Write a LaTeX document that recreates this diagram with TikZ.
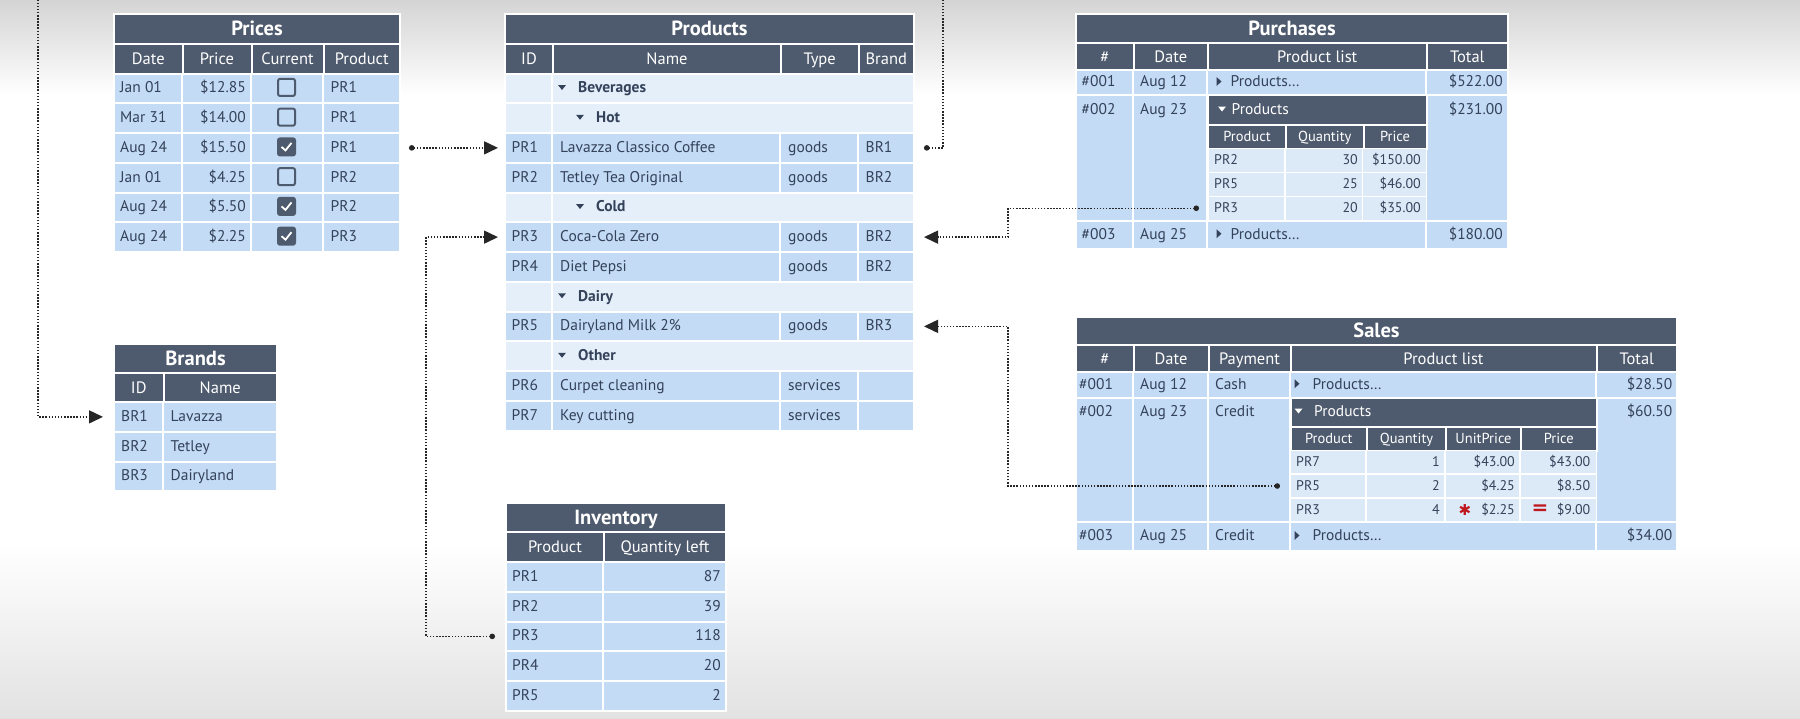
\documentclass[tikz,border=0pt]{standalone}
\usepackage{fontspec}
\setmainfont{PT Sans}
\newfontfamily\symfont{DejaVu Sans}
\usetikzlibrary{arrows.meta}
\definecolor{slate}{HTML}{4E5A6D}
\definecolor{sky}{HTML}{C3DBF4}
\definecolor{mist}{HTML}{E4EFFA}
\definecolor{frost}{HTML}{DCEAF8}
\definecolor{ink}{HTML}{34425A}
\definecolor{wire}{HTML}{262626}
\definecolor{alarm}{HTML}{C0161E}
\definecolor{haze}{HTML}{D4D4D4}
\definecolor{fog}{HTML}{E2E2E2}
\tikzset{
  cellbox/.style={anchor=north west, inner sep=0pt, draw=white, line width=2pt},
  barbox/.style={cellbox, fill=slate, text=white, font=\fontsize{16.5}{19}\selectfont, text height=11.5pt, text depth=0pt},
  ttlbox/.style={barbox, font=\fontsize{20.5}{23}\selectfont\bfseries, text height=14pt},
  subbox/.style={barbox, font=\fontsize{14.5}{17}\selectfont, text height=10pt},
  rowbox/.style={cellbox, fill=sky},
  grpbox/.style={cellbox, fill=mist},
  lowbox/.style={cellbox, fill=frost, line width=1.5pt},
  gap/.style={draw=white, line width=2pt},
  txt/.style={inner sep=0pt, anchor=west, text=ink, font=\fontsize{15.5}{18}\selectfont, text height=10.9pt, text depth=0pt},
  num/.style={txt, anchor=east},
  grptxt/.style={txt, font=\fontsize{15.5}{18}\selectfont\bfseries},
  sml/.style={txt, font=\fontsize{14}{16}\selectfont, text height=9.8pt},
  smlnum/.style={sml, anchor=east},
  chkoff/.style={draw=slate, line width=2pt, rounded corners=2pt, minimum size=17pt, inner sep=0pt},
  chkon/.style={chkoff, fill=slate},
  link/.style={draw=wire, line width=1.5pt, dash pattern=on 1.5pt off 1.6pt, {Circle[length=5.5pt]}-{Triangle[length=14pt, width=13pt]}},
}

\begin{document}
\begin{tikzpicture}[x=1pt, y=-1pt]
    \useasboundingbox (0,0) rectangle (1800,718);
    \fill[white] (0,0) rectangle (1800,718);
    \shade[top color=haze, bottom color=white] (0,0) rectangle (1800,95);
    \shade[top color=white, bottom color=fog] (0,545) rectangle (1800,718);
    \clip (0,0) rectangle (1800,718);

    % Prices
    \node[ttlbox, minimum width=286pt, minimum height=29.5pt] (price) at (113,13) {Prices};
    \foreach \x/\w/\t [count=\j] in {113/68.5/Date, 181.5/69/Price, 250.5/72/Current, 322.5/76.5/Product}
        \node[barbox, minimum width=\w pt, minimum height=30pt] (price-h\j) at (\x,42.5) {\t};
    \foreach \d/\p/\c/\q [count=\i] in {Jan 01/\$12.85/0/PR1, Mar 31/\$14.00/0/PR1, Aug 24/\$15.50/1/PR1,
            Jan 01/\$4.25/0/PR2, Aug 24/\$5.50/1/PR2, Aug 24/\$2.25/1/PR3} {
        \pgfmathsetmacro\y{72.5+(\i-1)*29.75}
        \node[rowbox, minimum width=286pt, minimum height=29.75pt] (price-\i) at (113,\y) {};
        \node[txt] (price-\i-d) at (120,\y+14.9) {\d};
        \node[num] (price-\i-p) at (246,\y+14.9) {\p};
        \node[txt] (price-\i-q) at (330.5,\y+14.9) {\q};
        \ifnum\c=1
            \node[chkon] (price-\i-c) at (286.5,\y+14.9) {};
            \draw[white, line width=1.8pt] (281.5,\y+14.9) -- (285.5,\y+18.4) -- (291.5,\y+10.9);
        \else
            \node[chkoff] (price-\i-c) at (286.5,\y+14.9) {};
        \fi
    }
    \foreach \x in {181.5, 250.5, 322.5}
        \draw[gap] (\x,72.5) -- (\x,251);

    % Products
    \node[ttlbox, minimum width=409pt, minimum height=29.5pt] (prod) at (504,13) {Products};
    \foreach \x/\w/\t [count=\j] in {504/48/ID, 552/228/Name, 780/77.5/Type, 857.5/55.5/Brand}
        \node[barbox, minimum width=\w pt, minimum height=30pt] (prod-h\j) at (\x,42.5) {\t};
    \foreach \k/\id/\nm/\ty/\br [count=\i] in {1/-/Beverages/-/-, 2/-/Hot/-/-,
            0/PR1/Lavazza Classico Coffee/goods/BR1, 0/PR2/Tetley Tea Original/goods/BR2,
            2/-/Cold/-/-, 0/PR3/Coca-Cola Zero/goods/BR2, 0/PR4/Diet Pepsi/goods/BR2,
            1/-/Dairy/-/-, 0/PR5/Dairyland Milk 2\%/goods/BR3, 1/-/Other/-/-,
            0/PR6/Curpet cleaning/services/{}, 0/PR7/Key cutting/services/{}} {
        \pgfmathsetmacro\y{72.5+(\i-1)*29.75}
        \ifnum\k=0
            \node[rowbox, minimum width=409pt, minimum height=29.75pt] (prod-\i) at (504,\y) {};
            \draw[gap] (780,\y) -- ++(0,29.75);
            \draw[gap] (857.5,\y) -- ++(0,29.75);
            \node[txt] (prod-\i-a) at (511.5,\y+14.9) {\id};
            \node[txt] (prod-\i-b) at (560,\y+14.9) {\nm};
            \node[txt] (prod-\i-c) at (788,\y+14.9) {\ty};
            \node[txt] (prod-\i-d) at (865.5,\y+14.9) {\br};
        \else
            \node[grpbox, minimum width=409pt, minimum height=29.75pt] (prod-\i) at (504,\y) {};
            \pgfmathsetmacro\tx{544+18*\k}
            \fill[ink] (\tx-4,\y+12.5) -- ++(8,0) -- ++(-4,5) -- cycle;
            \node[grptxt] (prod-\i-b) at (\tx+16,\y+14.9) {\nm};
        \fi
    }
    \draw[gap] (552,72.5) -- (552,430);

    % Brands
    \node[ttlbox, minimum width=163pt, minimum height=28.5pt] (brand) at (113,343) {Brands};
    \foreach \x/\w/\t [count=\j] in {113/49.5/ID, 162.5/113.5/Name}
        \node[barbox, minimum width=\w pt, minimum height=29.5pt] (brand-h\j) at (\x,371.5) {\t};
    \foreach \id/\nm [count=\i] in {BR1/Lavazza, BR2/Tetley, BR3/Dairyland} {
        \pgfmathsetmacro\y{401+(\i-1)*29.75}
        \node[rowbox, minimum width=163pt, minimum height=29.75pt] (brand-\i) at (113,\y) {};
        \node[txt] (brand-\i-a) at (121,\y+14.9) {\id};
        \node[txt] (brand-\i-b) at (170.5,\y+14.9) {\nm};
    }
    \draw[gap] (162.5,401) -- (162.5,490.5);

    % Inventory
    \node[ttlbox, minimum width=220pt, minimum height=29pt] (inv) at (505,502) {Inventory};
    \foreach \x/\w/\t [count=\j] in {505/98/Product, 603/122/Quantity left}
        \node[barbox, minimum width=\w pt, minimum height=30pt] (inv-h\j) at (\x,531) {\t};
    \foreach \p/\q [count=\i] in {PR1/87, PR2/39, PR3/118, PR4/20, PR5/2} {
        \pgfmathsetmacro\y{561+(\i-1)*29.75}
        \node[rowbox, minimum width=220pt, minimum height=29.75pt] (inv-\i) at (505,\y) {};
        \node[txt] (inv-\i-a) at (512,\y+14.9) {\p};
        \node[num] (inv-\i-b) at (721,\y+14.9) {\q};
    }
    \draw[gap] (603,561) -- (603,710);

    % Purchases
    \node[ttlbox, minimum width=432pt, minimum height=28.5pt] (purch) at (1075,13) {Purchases};
    \foreach \x/\w/\t [count=\j] in {1075/57.5/\#, 1132.5/74.5/Date, 1207/218.5/Product list, 1425.5/81.5/Total}
        \node[barbox, minimum width=\w pt, minimum height=27.5pt] (purch-h\j) at (\x,41.5) {\t};
    \foreach \n/\d/\s/\y/\h/\m [count=\i] in {001/Aug 12/\$522.00/69/25/81.5,
            002/Aug 23/\$231.00/94/125.5/108.75, 003/Aug 25/\$180.00/219.5/28.5/233.75} {
        \node[rowbox, minimum width=432pt, minimum height=\h pt] (purch-\i) at (1075,\y) {};
        \node[txt] (purch-\i-a) at (1081.5,\m) {\#\n};
        \node[txt] (purch-\i-b) at (1140,\m) {\d};
        \node[num] (purch-\i-d) at (1503,\m) {\s};
        \ifnum\i=2 \else
            \fill[ink] (1216.5,\m-4.5) -- ++(5,4.5) -- ++(-5,4.5) -- cycle;
            \node[txt] (purch-\i-c) at (1230.5,\m) {Products\ldots};
        \fi
    }
    \foreach \x in {1132.5, 1207, 1425.5}
        \draw[gap] (\x,69) -- (\x,248);
    % Purchases, product list
    \node[barbox, minimum width=218.5pt, minimum height=29.5pt] (purin) at (1207,94) {};
    \fill[white] (1218,106.5) -- ++(8,0) -- ++(-4,5) -- cycle;
    \node[txt, text=white] (purin-t) at (1231.5,108.75) {Products};
    \foreach \x/\w/\t [count=\j] in {1207/78/Product, 1285/77.5/Quantity, 1362.5/63/Price}
        \node[subbox, minimum width=\w pt, minimum height=24pt] (purin-h\j) at (\x,123.5) {\t};
    \foreach \p/\q/\s [count=\i] in {PR2/30/\$150.00, PR5/25/\$46.00, PR3/20/\$35.00} {
        \pgfmathsetmacro\y{147.5+(\i-1)*24}
        \node[lowbox, minimum width=218.5pt, minimum height=24pt] (purin-\i) at (1207,\y) {};
        \node[sml] (purin-\i-a) at (1214,\y+12) {\p};
        \node[smlnum] (purin-\i-b) at (1358,\y+12) {\q};
        \node[smlnum] (purin-\i-c) at (1421,\y+12) {\s};
    }
    \foreach \x in {1285, 1362.5}
        \draw[white, line width=1.2pt] (\x,147.5) -- (\x,219.5);

    % Sales
    \node[ttlbox, minimum width=601pt, minimum height=27.5pt] (sale) at (1075,316) {Sales};
    \foreach \x/\w/\t [count=\j] in {1075/57.5/\#, 1132.5/75/Date, 1207.5/82/Payment, 1289.5/306/Product list, 1595.5/80.5/Total}
        \node[barbox, minimum width=\w pt, minimum height=27.5pt] (sale-h\j) at (\x,343.5) {\t};
    \foreach \n/\d/\c/\s/\y/\h/\m [count=\i] in {001/Aug 12/Cash/\$28.50/371/25.5/383.75,
            002/Aug 23/Credit/\$60.50/396.5/124.5/411, 003/Aug 25/Credit/\$34.00/521/29/535.5} {
        \node[rowbox, minimum width=601pt, minimum height=\h pt] (sale-\i) at (1075,\y) {};
        \node[txt] (sale-\i-a) at (1079,\m) {\#\n};
        \node[txt] (sale-\i-b) at (1140,\m) {\d};
        \node[txt] (sale-\i-c) at (1215,\m) {\c};
        \node[num] (sale-\i-e) at (1672.5,\m) {\s};
        \ifnum\i=2 \else
            \fill[ink] (1294.5,\m-4.5) -- ++(5,4.5) -- ++(-5,4.5) -- cycle;
            \node[txt] (sale-\i-d) at (1312.5,\m) {Products\ldots};
        \fi
    }
    \foreach \x in {1132.5, 1207.5, 1289.5, 1595.5}
        \draw[gap] (\x,371) -- (\x,550);
    % Sales, product list
    \node[barbox, minimum width=306pt, minimum height=29pt] (salin) at (1289.5,396.5) {};
    \fill[white] (1294.5,408.5) -- ++(8,0) -- ++(-4,5) -- cycle;
    \node[txt, text=white] (salin-t) at (1314,411) {Products};
    \foreach \x/\w/\t [count=\j] in {1289.5/76.5/Product, 1366/79/Quantity, 1445/75/UnitPrice, 1520/75.5/Price}
        \node[subbox, minimum width=\w pt, minimum height=24pt] (salin-h\j) at (\x,425.5) {\t};
    \foreach \p/\q/\u/\s [count=\i] in {PR7/1/\$43.00/\$43.00, PR5/2/\$4.25/\$8.50, PR3/4/\$2.25/\$9.00} {
        \pgfmathsetmacro\y{449.5+(\i-1)*23.85}
        \node[lowbox, minimum width=306pt, minimum height=23.85pt] (salin-\i) at (1289.5,\y) {};
        \node[sml] (salin-\i-a) at (1296,\y+11.9) {\p};
        \node[smlnum] (salin-\i-b) at (1440,\y+11.9) {\q};
        \node[smlnum] (salin-\i-c) at (1515,\y+11.9) {\u};
        \node[smlnum] (salin-\i-d) at (1590.5,\y+11.9) {\s};
    }
    \foreach \x in {1366, 1445, 1520}
        \draw[white, line width=1.2pt] (\x,449.5) -- (\x,521);
    \node[text=alarm, inner sep=0pt, font=\symfont\fontsize{15}{17}\selectfont] (times) at (1465,510) {✱};
    \node[text=alarm, inner sep=0pt, font=\symfont\fontsize{20}{22}\selectfont\bfseries] (equals) at (1540,509.5) {=};

    % links
    \draw[link] ([xshift=8pt]price-3.east) -- ([xshift=-6pt]prod-3.west);
    \draw[link] ([xshift=9pt]prod-3.east) -- ++(19,0) |- (38,-20) |- ([xshift=-10pt]brand-1.west);
    \draw[link] ([xshift=-10pt]inv-3.west) -| ([xshift=-78pt]prod-6.west) -- ([xshift=-6pt]prod-6.west);
    \draw[link] ([xshift=-8pt]purin-3.west) -| ([xshift=93pt]prod-6.east) -- ([xshift=9pt]prod-6.east);
    \draw[link] ([xshift=-9.5pt]salin-2.west) -| ([xshift=93pt]prod-9.east) -- ([xshift=9pt]prod-9.east);
\end{tikzpicture}
\end{document}
